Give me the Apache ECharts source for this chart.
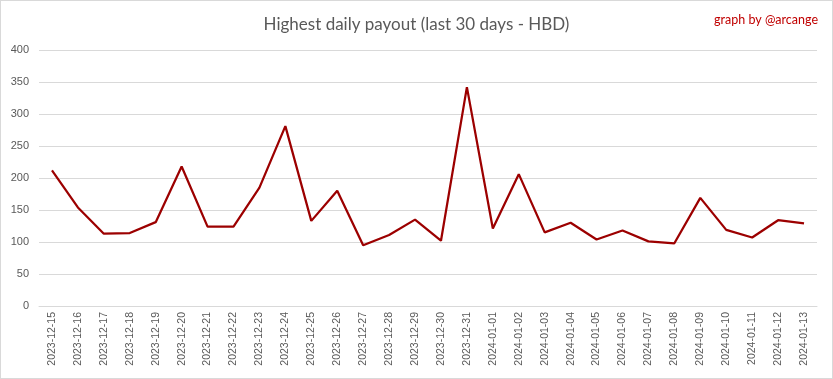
<!DOCTYPE html>
<html>
<head>
<meta charset="utf-8">
<script src="https://cdn.jsdelivr.net/npm/echarts@6/dist/echarts.min.js"></script>
<style>
html,body{margin:0;padding:0;background:#fff;}
#c{width:833px;height:379px;box-sizing:border-box;border:1px solid #d9d9d9;}
</style>
</head>
<body>
<div id="c"></div>
<script>
const dates = ["2023-12-15","2023-12-16","2023-12-17","2023-12-18","2023-12-19","2023-12-20","2023-12-21","2023-12-22","2023-12-23","2023-12-24","2023-12-25","2023-12-26","2023-12-27","2023-12-28","2023-12-29","2023-12-30","2023-12-31","2024-01-01","2024-01-02","2024-01-03","2024-01-04","2024-01-05","2024-01-06","2024-01-07","2024-01-08","2024-01-09","2024-01-10","2024-01-11","2024-01-12","2024-01-13"];
const payouts = [212, 154, 113, 114, 131, 218, 124, 124, 185, 281, 133, 180, 95, 111, 135, 102, 342, 121, 206, 115, 130, 104, 118, 101, 98, 169, 119, 107, 134, 129];
const yTicks = [0, 50, 100, 150, 200, 250, 300, 350, 400];

const chart = echarts.init(document.getElementById('c'), null, {renderer:'canvas'});
chart.setOption({
  animation:false,
  backgroundColor:'#fff',
  title:[{
    text:'Highest daily payout (last 30 days - HBD)',
    left:'center', top:10,
    textStyle:{fontFamily:'Lato', fontWeight:'normal', fontSize:17, color:'#595959'}
  },{
    text:'graph by @arcange',
    right:9, top:7,
    textStyle:{fontFamily:'Lato', fontWeight:'normal', fontSize:12.5, color:'#c00000'}
  }],
  grid:{left:38, right:15, top:49, bottom:72, containLabel:false},
  xAxis:{
    type:'category', data:dates, boundaryGap:true,
    axisLine:{show:true, lineStyle:{color:'#d9d9d9', width:1}},
    axisTick:{show:false},
    axisLabel:{rotate:90, interval:0, margin:6, fontSize:10.5, color:'#595959', fontFamily:'Liberation Sans'}
  },
  yAxis:{
    type:'value', min:yTicks[0], max:yTicks[yTicks.length-1], interval:50,
    axisLine:{show:false}, axisTick:{show:false},
    splitLine:{lineStyle:{color:'#d9d9d9', width:1}},
    axisLabel:{margin:10, fontSize:11, color:'#595959', fontFamily:'Liberation Sans'}
  },
  series:[{
    type:'line', data:payouts, symbol:'none',
    lineStyle:{color:'#9c0000', width:2.25},
    itemStyle:{color:'#9c0000'}
  }]
});
</script>
</body>
</html>
